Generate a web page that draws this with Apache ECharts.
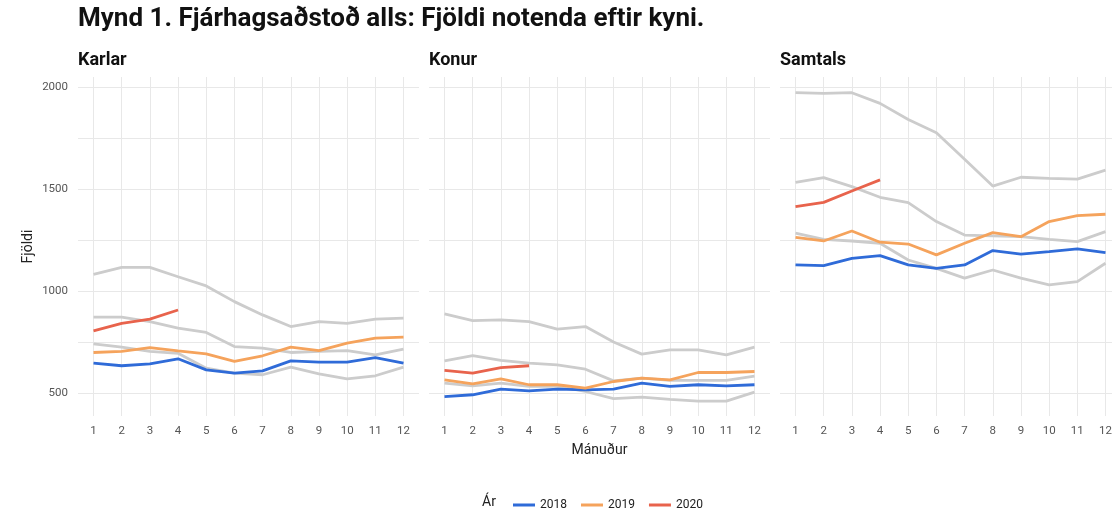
<!doctype html>
<html>
	<head>
		<meta charset="UTF-8">
		<title>Fjárhagsaðstoð</title>
		<style type="text/css">
			html, body { margin: 0; padding: 0; background: #fff; }
			#main { width: 1112px; height: 510px; }
		</style>
	</head>
	<body>
		<div id="main"></div>
		<script src="https://cdn.jsdelivr.net/npm/echarts@6/dist/echarts.min.js"></script>
		<script type="text/javascript">
			var months = [1, 2, 3, 4, 5, 6, 7, 8, 9, 10, 11, 12];
			var yTicks = [500, 1000, 1500, 2000];
			var yGrid = [500, 750, 1000, 1250, 1500, 1750, 2000];
			var panels = ['Karlar', 'Konur', 'Samtals'];
			var years = ['2015', '2016', '2017', '2018', '2019', '2020'];

			// Karlar
			var karlar2015 = [1082, 1116, 1116, 1070, 1025, 948, 883, 826, 850, 842, 862, 867];
			var karlar2016 = [872, 872, 850, 818, 797, 728, 720, 699, 704, 708, 687, 715];
			var karlar2017 = [741, 725, 704, 695, 622, 598, 590, 627, 594, 570, 585, 627];
			var karlar2018 = [647, 634, 643, 668, 614, 598, 609, 658, 652, 652, 674, 647];
			var karlar2019 = [699, 704, 723, 707, 692, 655, 683, 725, 708, 745, 769, 774];
			var karlar2020 = [805, 842, 862, 907];
			// Konur
			var konur2015 = [888, 855, 859, 850, 813, 826, 750, 691, 712, 712, 687, 725];
			var konur2016 = [658, 684, 660, 647, 638, 617, 560, 573, 562, 562, 562, 583];
			var konur2017 = [549, 536, 549, 533, 533, 508, 473, 480, 469, 461, 461, 505];
			var konur2018 = [483, 492, 520, 511, 520, 516, 520, 549, 533, 541, 536, 541];
			var konur2019 = [565, 545, 570, 541, 541, 524, 557, 573, 565, 601, 601, 606];
			var konur2020 = [611, 598, 625, 634];
			// Samtals
			var samtals2015 = [1971, 1968, 1971, 1919, 1840, 1775, 1645, 1514, 1557, 1552, 1548, 1592];
			var samtals2016 = [1532, 1555, 1511, 1459, 1433, 1340, 1274, 1270, 1266, 1253, 1242, 1291];
			var samtals2017 = [1283, 1253, 1245, 1234, 1152, 1111, 1063, 1103, 1063, 1030, 1046, 1136];
			var samtals2018 = [1128, 1124, 1160, 1173, 1128, 1111, 1128, 1198, 1181, 1193, 1206, 1188];
			var samtals2019 = [1263, 1245, 1294, 1239, 1230, 1177, 1234, 1286, 1266, 1340, 1369, 1376];
			var samtals2020 = [1413, 1434, 1490, 1544];

			var panelData = [
				[karlar2015, karlar2016, karlar2017, karlar2018, karlar2019, karlar2020],
				[konur2015, konur2016, konur2017, konur2018, konur2019, konur2020],
				[samtals2015, samtals2016, samtals2017, samtals2018, samtals2019, samtals2020]
			];
			var colors = ['#cccccc', '#cccccc', '#cccccc', '#2f6bd8', '#f5a35c', '#e8634c'];
			var lefts = [78, 429, 780];
			var font = 'Roboto, "Noto Sans", sans-serif';

			function pairs(arr) {
				return arr.map(function(v, i) { return [months[i], v]; });
			}

			var grids = [], xAxes = [], yAxes = [], series = [];
			var titles = [{
				text: 'Mynd 1. Fjárhagsaðstoð alls: Fjöldi notenda eftir kyni.',
				left: 78, top: 6, padding: 0,
				textStyle: { fontFamily: font, fontSize: 26, fontWeight: 'bold', color: '#111' }
			}, {
				text: 'Ár',
				left: 482, top: 495, padding: 0,
				textStyle: { fontFamily: font, fontSize: 14, fontWeight: 'normal', color: '#222' }
			}];

			for (var p = 0; p < 3; p++) {
				grids.push({ left: lefts[p], top: 77, width: 341, height: 339, outerBoundsMode: 'none' });
				titles.push({
					text: panels[p], left: lefts[p], top: 51, padding: 0,
					textStyle: { fontFamily: font, fontSize: 18, fontWeight: 'bold', color: '#111' }
				});
				xAxes.push({
					type: 'value', gridIndex: p, min: 0.45, max: 12.55,
					name: p == 1 ? 'Mánuður' : '', nameLocation: 'middle', nameGap: 27,
					nameTextStyle: { fontFamily: font, fontSize: 14, color: '#222' },
					axisLine: { show: false },
					axisTick: { show: false, customValues: months },
					axisLabel: { customValues: months, margin: 9, fontFamily: font, fontSize: 11.5, color: '#555' },
					splitLine: { show: true, lineStyle: { color: '#e8e8e8', width: 1 } }
				});
				yAxes.push({
					type: 'value', gridIndex: p, min: 388, max: 2048,
					name: p == 0 ? 'Fjöldi' : '', nameLocation: 'middle', nameGap: 43,
					nameTextStyle: { fontFamily: font, fontSize: 14, color: '#222' },
					axisLine: { show: false },
					axisTick: { show: false, customValues: yGrid },
					axisLabel: {
						show: p == 0, customValues: yTicks, margin: 10,
						fontFamily: font, fontSize: 11.5, color: '#555',
						formatter: function(v) { return String(v); }
					},
					splitLine: { show: true, lineStyle: { color: '#e8e8e8', width: 1 } }
				});
				for (var s = 0; s < years.length; s++) {
					series.push({
						name: years[s], type: 'line',
						xAxisIndex: p, yAxisIndex: p,
						data: pairs(panelData[p][s]),
						symbol: 'none', silent: true,
						z: s < 3 ? 2 : 3,
						lineStyle: { color: colors[s], width: 2.8 },
						itemStyle: { color: colors[s] }
					});
				}
			}

			var myChart = echarts.init(document.getElementById('main'));
			myChart.setOption({
				animation: false,
				title: titles,
				legend: {
					data: ['2018', '2019', '2020'],
					left: 508, top: 494,
					icon: 'rect', itemWidth: 22, itemHeight: 3, itemGap: 14,
					textStyle: { fontFamily: font, fontSize: 12, color: '#222' }
				},
				grid: grids,
				xAxis: xAxes,
				yAxis: yAxes,
				series: series
			});
		</script>
	</body>
</html>
